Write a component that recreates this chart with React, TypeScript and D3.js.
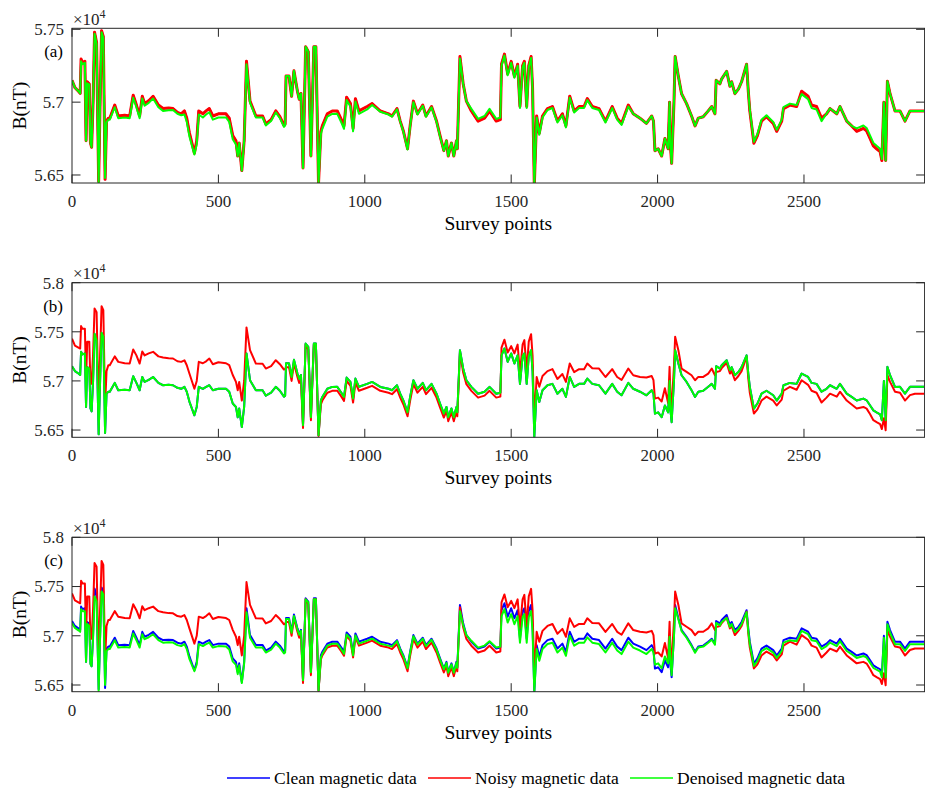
import React from 'react';
import * as d3 from 'd3';

// survey point positions of the breakpoints
const surveyPoints = [
  0, 10, 22, 28, 31, 36, 44, 48, 52, 59,
  63, 67, 72, 77, 84, 91, 96, 101, 107, 113,
  118, 124, 129, 146, 158, 180, 197, 209, 220, 231,
  240, 248, 262, 277, 295, 311, 330, 345, 360, 373,
  384, 392, 401, 418, 426, 433, 447, 458, 469, 481,
  500, 526, 537, 549, 560, 566, 571, 580, 588, 596,
  608, 628, 651, 662, 680, 696, 710, 724, 728, 731,
  741, 750, 758, 770, 776, 782, 789, 798, 807, 816,
  826, 833, 842, 850, 855, 872, 889, 906, 920, 929,
  938, 951, 960, 968, 980, 1008, 1025, 1053, 1081, 1093,
  1110, 1121, 1132, 1146, 1155, 1166, 1180, 1198, 1209, 1228,
  1245, 1257, 1270, 1279, 1285, 1296, 1304, 1313, 1316, 1325,
  1336, 1347, 1364, 1387, 1409, 1426, 1449, 1463, 1467, 1477,
  1488, 1500, 1511, 1522, 1530, 1539, 1545, 1553, 1560, 1568,
  1573, 1579, 1587, 1596, 1607, 1624, 1641, 1658, 1675, 1687,
  1700, 1715, 1732, 1749, 1760, 1777, 1800, 1822, 1845, 1862,
  1877, 1900, 1917, 1940, 1962, 1980, 1986, 1991, 2002, 2014,
  2025, 2036, 2041, 2044, 2048, 2056, 2060, 2071, 2082, 2099,
  2116, 2128, 2139, 2156, 2173, 2185, 2196, 2200, 2213, 2219,
  2236, 2247, 2253, 2264, 2276, 2287, 2304, 2310, 2315, 2329,
  2341, 2355, 2372, 2395, 2407, 2424, 2430, 2452, 2475, 2492,
  2514, 2526, 2543, 2560, 2577, 2589, 2612, 2623, 2646, 2663,
  2680, 2703, 2714, 2726, 2737, 2748, 2760, 2766, 2773, 2779,
  2785, 2794, 2811, 2828, 2845, 2862, 2879, 2896, 2910,
];

// B in units of 1e4 nT
const cleanData = [
  5.7150, 5.7100, 5.7075, 5.7060, 5.7296, 5.7270, 5.7280, 5.6735, 5.7140, 5.7125,
  5.6720, 5.6690, 5.7000, 5.7480, 5.7410, 5.6456, 5.7000, 5.7490, 5.7450, 5.6470,
  5.6870, 5.6890, 5.6890, 5.6980, 5.6905, 5.6910, 5.6905, 5.7048, 5.6980, 5.6905,
  5.7040, 5.6990, 5.7010, 5.7040, 5.6980, 5.6956, 5.6960, 5.6956, 5.6930, 5.6920,
  5.6940, 5.6890, 5.6790, 5.6650, 5.6735, 5.6940, 5.6920, 5.6940, 5.6956, 5.6905,
  5.6920, 5.6920, 5.6890, 5.6770, 5.6735, 5.6630, 5.6720, 5.6530, 5.6735, 5.7280,
  5.7007, 5.6905, 5.6905, 5.6850, 5.6880, 5.6940, 5.6900, 5.6840, 5.6850, 5.7180,
  5.7180, 5.7040, 5.7215, 5.7075, 5.7020, 5.7060, 5.6548, 5.7380, 5.7347, 5.6630,
  5.7380, 5.7380, 5.6446, 5.6800, 5.6837, 5.6920, 5.6939, 5.6940, 5.6880, 5.6837,
  5.7034, 5.6990, 5.6820, 5.7024, 5.6940, 5.6970, 5.6990, 5.6939, 5.6920, 5.6905,
  5.6956, 5.6870, 5.6800, 5.6680, 5.6840, 5.7007, 5.6920, 5.6980, 5.6905, 5.6970,
  5.6870, 5.6770, 5.6667, 5.6735, 5.6630, 5.6720, 5.6630, 5.6735, 5.6680, 5.7313,
  5.7126, 5.7007, 5.6939, 5.6870, 5.6890, 5.6939, 5.6870, 5.6880, 5.7260, 5.7330,
  5.7194, 5.7280, 5.7177, 5.7260, 5.6970, 5.7250, 5.7280, 5.6970, 5.7250, 5.7313,
  5.7100, 5.6430, 5.6905, 5.6786, 5.6905, 5.6956, 5.6970, 5.6870, 5.6920, 5.6837,
  5.7041, 5.6939, 5.6970, 5.6970, 5.7024, 5.6970, 5.6956, 5.6870, 5.6970, 5.6890,
  5.6854, 5.6980, 5.6920, 5.6890, 5.6854, 5.6905, 5.6870, 5.6667, 5.6680, 5.6630,
  5.6750, 5.6680, 5.7000, 5.6700, 5.6580, 5.7000, 5.7313, 5.7177, 5.7058, 5.6990,
  5.6905, 5.6837, 5.6890, 5.6900, 5.6940, 5.6970, 5.6920, 5.7150, 5.7126, 5.7160,
  5.7211, 5.7109, 5.7140, 5.7058, 5.7090, 5.7140, 5.7260, 5.7070, 5.6940, 5.6718,
  5.6770, 5.6870, 5.6900, 5.6854, 5.6800, 5.6870, 5.6956, 5.6980, 5.6970, 5.7075,
  5.7041, 5.6980, 5.6970, 5.6890, 5.6920, 5.6956, 5.6920, 5.6970, 5.6870, 5.6837,
  5.6800, 5.6820, 5.6803, 5.6750, 5.6700, 5.6680, 5.6660, 5.6600, 5.7000, 5.6600,
  5.7143, 5.7058, 5.6939, 5.6940, 5.6870, 5.6940, 5.6940, 5.6940, 5.6940,
];

// noisy data with baseline drift, panels (b) and (c)
const noisyDrift = [
  5.7430, 5.7360, 5.7340, 5.7330, 5.7558, 5.7530, 5.7530, 5.7007, 5.7400, 5.7400,
  5.6970, 5.6970, 5.7270, 5.7738, 5.7700, 5.6726, 5.7270, 5.7760, 5.7720, 5.6750,
  5.7100, 5.7160, 5.7160, 5.7250, 5.7194, 5.7180, 5.7177, 5.7320, 5.7260, 5.7177,
  5.7300, 5.7260, 5.7280, 5.7296, 5.7250, 5.7238, 5.7230, 5.7228, 5.7200, 5.7194,
  5.7210, 5.7160, 5.7075, 5.6920, 5.7000, 5.7194, 5.7180, 5.7200, 5.7228, 5.7170,
  5.7190, 5.7180, 5.7160, 5.7060, 5.6990, 5.6905, 5.6990, 5.6800, 5.7000, 5.7545,
  5.7313, 5.7177, 5.7175, 5.7126, 5.7150, 5.7211, 5.7170, 5.7116, 5.7120, 5.7140,
  5.7140, 5.7000, 5.7180, 5.7040, 5.6980, 5.7010, 5.6520, 5.7370, 5.7320, 5.6600,
  5.7370, 5.7370, 5.6440, 5.6760, 5.6800, 5.6880, 5.6899, 5.6900, 5.6840, 5.6797,
  5.7000, 5.6950, 5.6780, 5.6984, 5.6900, 5.6930, 5.6950, 5.6899, 5.6880, 5.6865,
  5.6916, 5.6830, 5.6760, 5.6640, 5.6800, 5.6967, 5.6880, 5.6940, 5.6865, 5.6930,
  5.6830, 5.6730, 5.6627, 5.6695, 5.6590, 5.6680, 5.6590, 5.6695, 5.6640, 5.7290,
  5.7086, 5.6967, 5.6899, 5.6830, 5.6850, 5.6899, 5.6830, 5.6840, 5.7340, 5.7420,
  5.7290, 5.7354, 5.7280, 5.7370, 5.7080, 5.7370, 5.7415, 5.7100, 5.7400, 5.7476,
  5.7260, 5.6600, 5.7040, 5.6940, 5.7050, 5.7100, 5.7120, 5.7020, 5.7070, 5.6990,
  5.7177, 5.7090, 5.7120, 5.7120, 5.7177, 5.7130, 5.7126, 5.7040, 5.7120, 5.7040,
  5.7010, 5.7126, 5.7058, 5.7040, 5.7034, 5.7050, 5.7007, 5.6820, 5.6830, 5.6790,
  5.6926, 5.6775, 5.7143, 5.6850, 5.6735, 5.7150, 5.7450, 5.7313, 5.7126, 5.7092,
  5.7058, 5.7007, 5.7041, 5.7041, 5.7075, 5.7126, 5.7058, 5.7090, 5.7100, 5.7130,
  5.7184, 5.7075, 5.7100, 5.7007, 5.7050, 5.7100, 5.7245, 5.7020, 5.6880, 5.6668,
  5.6710, 5.6800, 5.6840, 5.6800, 5.6750, 5.6810, 5.6900, 5.6940, 5.6910, 5.7007,
  5.6960, 5.6900, 5.6880, 5.6780, 5.6830, 5.6870, 5.6840, 5.6890, 5.6800, 5.6760,
  5.6720, 5.6735, 5.6718, 5.6660, 5.6600, 5.6580, 5.6560, 5.6510, 5.6620, 5.6497,
  5.7058, 5.6990, 5.6890, 5.6880, 5.6800, 5.6855, 5.6870, 5.6870, 5.6870,
];

const denoisedA = [
  5.7150, 5.7100, 5.7075, 5.7060, 5.7280, 5.7260, 5.7270, 5.6735, 5.7130, 5.7120,
  5.6720, 5.6690, 5.7000, 5.7470, 5.7400, 5.6440, 5.7000, 5.7480, 5.7440, 5.6480,
  5.6860, 5.6880, 5.6880, 5.6965, 5.6890, 5.6895, 5.6890, 5.7030, 5.6965, 5.6890,
  5.7025, 5.6975, 5.6995, 5.7025, 5.6965, 5.6940, 5.6945, 5.6946, 5.6920, 5.6910,
  5.6915, 5.6865, 5.6765, 5.6640, 5.6710, 5.6915, 5.6895, 5.6915, 5.6931, 5.6880,
  5.6895, 5.6895, 5.6865, 5.6745, 5.6710, 5.6630, 5.6720, 5.6530, 5.6735, 5.7260,
  5.6997, 5.6895, 5.6895, 5.6840, 5.6870, 5.6930, 5.6890, 5.6830, 5.6840, 5.7180,
  5.7180, 5.7040, 5.7215, 5.7075, 5.7020, 5.7060, 5.6548, 5.7380, 5.7347, 5.6630,
  5.7380, 5.7380, 5.6446, 5.6780, 5.6817, 5.6900, 5.6919, 5.6920, 5.6860, 5.6817,
  5.7014, 5.6970, 5.6800, 5.7004, 5.6920, 5.6950, 5.6980, 5.6934, 5.6915, 5.6900,
  5.6951, 5.6865, 5.6795, 5.6675, 5.6835, 5.7000, 5.6915, 5.6975, 5.6900, 5.6965,
  5.6865, 5.6765, 5.6667, 5.6735, 5.6630, 5.6720, 5.6630, 5.6735, 5.6680, 5.7300,
  5.7126, 5.7007, 5.6954, 5.6885, 5.6905, 5.6954, 5.6885, 5.6895, 5.7250, 5.7320,
  5.7184, 5.7270, 5.7167, 5.7250, 5.6960, 5.7240, 5.7270, 5.6960, 5.7240, 5.7303,
  5.7090, 5.6430, 5.6895, 5.6776, 5.6895, 5.6946, 5.6960, 5.6860, 5.6910, 5.6827,
  5.7031, 5.6929, 5.6960, 5.6960, 5.7014, 5.6960, 5.6946, 5.6860, 5.6960, 5.6880,
  5.6844, 5.6970, 5.6920, 5.6890, 5.6854, 5.6905, 5.6870, 5.6667, 5.6680, 5.6630,
  5.6750, 5.6680, 5.7000, 5.6700, 5.6580, 5.7000, 5.7313, 5.7177, 5.7058, 5.6990,
  5.6905, 5.6837, 5.6890, 5.6900, 5.6940, 5.6970, 5.6920, 5.7150, 5.7126, 5.7160,
  5.7211, 5.7109, 5.7140, 5.7058, 5.7090, 5.7140, 5.7260, 5.7070, 5.6950, 5.6728,
  5.6780, 5.6880, 5.6910, 5.6864, 5.6810, 5.6880, 5.6966, 5.6990, 5.6980, 5.7055,
  5.7021, 5.6960, 5.6950, 5.6870, 5.6920, 5.6956, 5.6920, 5.6970, 5.6870, 5.6837,
  5.6820, 5.6840, 5.6823, 5.6770, 5.6720, 5.6700, 5.6680, 5.6610, 5.7000, 5.6600,
  5.7143, 5.7058, 5.6939, 5.6940, 5.6870, 5.6940, 5.6940, 5.6940, 5.6940,
];

const denoisedC = [
  5.7130, 5.7080, 5.7055, 5.7040, 5.7270, 5.7250, 5.7250, 5.6735, 5.7120, 5.7100,
  5.6710, 5.6690, 5.6980, 5.7400, 5.7350, 5.6440, 5.6980, 5.7450, 5.7420, 5.6500,
  5.6845, 5.6865, 5.6865, 5.6955, 5.6880, 5.6885, 5.6880, 5.7023, 5.6955, 5.6880,
  5.7015, 5.6965, 5.6985, 5.7015, 5.6955, 5.6930, 5.6935, 5.6931, 5.6905, 5.6895,
  5.6915, 5.6865, 5.6765, 5.6640, 5.6710, 5.6915, 5.6895, 5.6915, 5.6931, 5.6880,
  5.6895, 5.6890, 5.6860, 5.6740, 5.6705, 5.6610, 5.6700, 5.6520, 5.6720, 5.7240,
  5.6980, 5.6880, 5.6880, 5.6830, 5.6860, 5.6920, 5.6880, 5.6820, 5.6830, 5.7170,
  5.7170, 5.7030, 5.7200, 5.7065, 5.7010, 5.7050, 5.6548, 5.7370, 5.7340, 5.6630,
  5.7370, 5.7370, 5.6446, 5.6780, 5.6817, 5.6900, 5.6919, 5.6920, 5.6860, 5.6817,
  5.7014, 5.6970, 5.6800, 5.7004, 5.6920, 5.6950, 5.6970, 5.6919, 5.6900, 5.6890,
  5.6946, 5.6860, 5.6790, 5.6670, 5.6830, 5.6995, 5.6910, 5.6970, 5.6895, 5.6960,
  5.6860, 5.6760, 5.6660, 5.6725, 5.6625, 5.6710, 5.6625, 5.6725, 5.6675, 5.7250,
  5.7110, 5.7007, 5.6949, 5.6880, 5.6900, 5.6945, 5.6880, 5.6890, 5.7200, 5.7270,
  5.7134, 5.7220, 5.7117, 5.7200, 5.6930, 5.7190, 5.7220, 5.6930, 5.7190, 5.7250,
  5.7040, 5.6430, 5.6865, 5.6746, 5.6865, 5.6916, 5.6930, 5.6830, 5.6880, 5.6797,
  5.7001, 5.6899, 5.6930, 5.6930, 5.6984, 5.6930, 5.6916, 5.6830, 5.6930, 5.6850,
  5.6814, 5.6940, 5.6880, 5.6850, 5.6814, 5.6865, 5.6830, 5.6707, 5.6720, 5.6670,
  5.6790, 5.6720, 5.6990, 5.6740, 5.6600, 5.6990, 5.7280, 5.7167, 5.7048, 5.6980,
  5.6895, 5.6827, 5.6880, 5.6890, 5.6930, 5.6960, 5.6910, 5.7130, 5.7106, 5.7140,
  5.7181, 5.7089, 5.7120, 5.7038, 5.7070, 5.7120, 5.7240, 5.7045, 5.6915, 5.6693,
  5.6745, 5.6845, 5.6875, 5.6829, 5.6775, 5.6845, 5.6931, 5.6955, 5.6945, 5.7050,
  5.7016, 5.6955, 5.6945, 5.6865, 5.6895, 5.6931, 5.6895, 5.6945, 5.6845, 5.6812,
  5.6775, 5.6795, 5.6778, 5.6725, 5.6675, 5.6655, 5.6635, 5.6580, 5.6980, 5.6575,
  5.7118, 5.7033, 5.6914, 5.6915, 5.6845, 5.6915, 5.6915, 5.6915, 5.6915,
];

const xTicks = [0, 500, 1000, 1500, 2000, 2500];
const yTicksA = [5.65, 5.7, 5.75];
const yTicksBC = [5.65, 5.7, 5.75, 5.8];
const legendLabels = ['Clean magnetic data', 'Noisy magnetic data', 'Denoised magnetic data'];
const seriesColors = ['#0000ff', '#ff0000', '#00ff00'];

const W = 925;
const H = 792;
const LEFT = 72;
const RIGHT = 924.6;
const X_MAX = 2912;
const TICK = 8.5;
const FONT = '"Liberation Serif", "Times New Roman", serif';
const AXIS = '#262626';

interface PanelProps {
  id: string;
  label: string;
  top: number;
  bottom: number;
  yDomain: [number, number];
  yTicks: number[];
  noisy: number[];
  denoised: number[];
  noisyWidth: number;
}

const Panel: React.FC<PanelProps> = ({ id, label, top, bottom, yDomain, yTicks, noisy, denoised, noisyWidth }) => {
  const x = d3.scaleLinear().domain([0, X_MAX]).range([LEFT, RIGHT]);
  const y = d3.scaleLinear().domain(yDomain).range([bottom, top]);
  const line = d3.line<number>()
    .x((_, i) => x(surveyPoints[i]))
    .y(d => y(d));

  return (
    <g>
      <defs>
        <clipPath id={`clip-${id}`}>
          <rect x={LEFT} y={top} width={RIGHT - LEFT} height={bottom - top} />
        </clipPath>
      </defs>

      <g clipPath={`url(#clip-${id})`} fill="none" strokeLinejoin="round">
        <path d={line(cleanData) || ''} stroke={seriesColors[0]} strokeWidth={2} />
        <path d={line(noisy) || ''} stroke={seriesColors[1]} strokeWidth={noisyWidth} />
        <path d={line(denoised) || ''} stroke={seriesColors[2]} strokeWidth={2} />
      </g>

      <rect x={LEFT} y={top} width={RIGHT - LEFT} height={bottom - top} fill="none" stroke={AXIS} strokeWidth={1} />

      {/* x ticks, top and bottom, pointing in */}
      {xTicks.map(t => (
        <g key={`x${t}`} stroke={AXIS} strokeWidth={1}>
          <line x1={x(t)} x2={x(t)} y1={bottom} y2={bottom - TICK} />
          <line x1={x(t)} x2={x(t)} y1={top} y2={top + TICK} />
        </g>
      ))}
      {yTicks.map(t => (
        <g key={`y${t}`} stroke={AXIS} strokeWidth={1}>
          <line x1={LEFT} x2={LEFT + TICK} y1={y(t)} y2={y(t)} />
          <line x1={RIGHT} x2={RIGHT - TICK} y1={y(t)} y2={y(t)} />
        </g>
      ))}

      <g fontFamily={FONT} fontSize={17} fill={AXIS}>
        {xTicks.map(t => (
          <text key={`xl${t}`} x={x(t)} y={bottom + 24} textAnchor="middle">{t}</text>
        ))}
        {yTicks.map(t => (
          <text key={`yl${t}`} x={64} y={y(t)} dy="0.35em" textAnchor="end">{String(t)}</text>
        ))}
        <text x={73} y={top - 3.3}>
          ×10<tspan fontSize={12} dy={-7}>4</tspan>
        </text>
        <text x={63} y={top + 29} textAnchor="end" fill="#000">{label}</text>
      </g>

      <text x={(LEFT + RIGHT) / 2} y={bottom + 47} textAnchor="middle" fontFamily={FONT} fontSize={19.5} fill="#000">
        Survey points
      </text>
      <text
        transform={`translate(26,${(top + bottom) / 2}) rotate(-90)`}
        textAnchor="middle"
        fontFamily={FONT}
        fontSize={19.5}
        fill="#000"
      >
        B(nT)
      </text>
    </g>
  );
};

const legendX = [227, 428, 630];

export default function App() {
  return (
    <svg width={W} height={H} style={{ position: 'absolute', left: 0, top: 0, background: '#fff' }}>
      <rect width={W} height={H} fill="#fff" />
      <Panel id="a" label="(a)" top={28.3} bottom={183} yDomain={[5.6445, 5.7507]} yTicks={yTicksA}
        noisy={cleanData} denoised={denoisedA} noisyWidth={3} />
      <Panel id="b" label="(b)" top={282.7} bottom={437.3} yDomain={[5.6426, 5.8]} yTicks={yTicksBC}
        noisy={noisyDrift} denoised={cleanData} noisyWidth={2} />
      <Panel id="c" label="(c)" top={537.3} bottom={691.7} yDomain={[5.6432, 5.8]} yTicks={yTicksBC}
        noisy={noisyDrift} denoised={denoisedC} noisyWidth={2} />

      {legendLabels.map((name, i) => (
        <g key={name}>
          <line x1={legendX[i]} x2={legendX[i] + 43} y1={778} y2={778} stroke={seriesColors[i]} strokeWidth={1.6} />
          <text x={legendX[i] + 47} y={784} fontFamily={FONT} fontSize={17.5} fill="#000">{name}</text>
        </g>
      ))}
    </svg>
  );
}
